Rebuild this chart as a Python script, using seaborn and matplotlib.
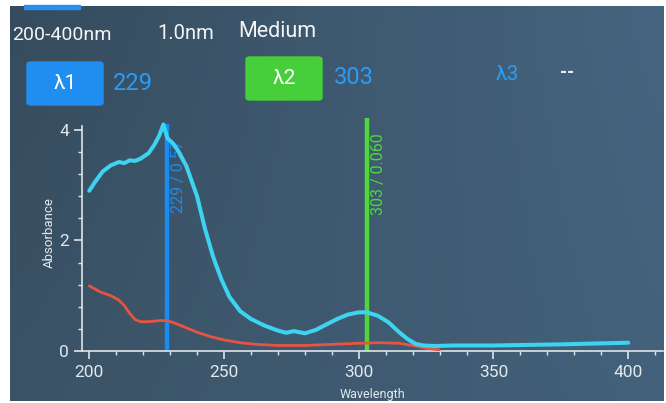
import numpy as np
import pandas as pd
import seaborn as sns
import matplotlib.pyplot as plt
from matplotlib.patches import FancyBboxPatch, Rectangle
from matplotlib.ticker import MultipleLocator

# sample spectrum (cyan)
sample_wl = [200, 202, 205, 208, 211, 213, 215, 217, 219, 222, 224, 226, 227.5, 229,
             231, 233, 236, 240, 243, 246, 249, 252, 256, 260, 265, 270, 273, 276,
             280, 284, 288, 292, 296, 300, 303, 307, 311, 315, 318, 321, 324, 328,
             335, 350, 375, 400]
sample_abs = [2.9, 3.05, 3.25, 3.36, 3.42, 3.4, 3.45, 3.44, 3.48, 3.58, 3.72, 3.9, 4.1, 3.85,
              3.76, 3.62, 3.35, 2.8, 2.2, 1.7, 1.3, 0.98, 0.72, 0.58, 0.46, 0.37, 0.33, 0.36,
              0.32, 0.38, 0.48, 0.58, 0.66, 0.7, 0.7, 0.64, 0.52, 0.34, 0.22, 0.13, 0.1, 0.09,
              0.1, 0.1, 0.12, 0.15]

# reference spectrum (red)
ref_wl = [200, 204, 208, 211, 213, 215, 217, 219, 222, 226, 229, 232, 236, 240, 245,
          250, 256, 262, 270, 280, 290, 300, 308, 315, 320, 325, 330]
ref_abs = [1.18, 1.07, 1.0, 0.92, 0.82, 0.68, 0.57, 0.53, 0.53, 0.55, 0.55, 0.5, 0.42, 0.34, 0.26,
           0.2, 0.15, 0.12, 0.1, 0.1, 0.12, 0.14, 0.15, 0.14, 0.1, 0.05, 0.02]

# marker wavelengths
markers = [229, 303]
marker_tops = [4.1, 4.22]
marker_labels = ["229 / 0.57", "303 / 0.060"]
marker_colors = ["#1a8cf0", "#4fd83a"]

header = ["200-400nm", "1.0nm", "Medium"]
lambda_names = ["λ1", "λ2", "λ3"]
lambda_values = ["229", "303", "--"]

W, H = 666, 403


def fx(px):
    return px / W


def fy(py):
    return 1 - py / H


sns.set_theme(style="ticks")
plt.rcParams["font.family"] = ["Roboto", "DejaVu Sans"]

fig = plt.figure(figsize=(6.66, 4.03), dpi=100, facecolor="white")

# screen background (photo of a display)
bg = fig.add_axes([0, 0, 1, 1], zorder=-1)
bg.set_xlim(0, W)
bg.set_ylim(H, 0)
bg.axis("off")
tl = np.array([0x36, 0x4c, 0x5e]) / 255
tr = np.array([0x46, 0x65, 0x80]) / 255
bl = np.array([0x3b, 0x53, 0x66]) / 255
br = np.array([0x43, 0x61, 0x7b]) / 255
u = np.linspace(0, 1, 60)[None, :, None]
v = np.linspace(0, 1, 40)[:, None, None]
grad = (1 - v) * ((1 - u) * tl + u * tr) + v * ((1 - u) * bl + u * br)
bg.imshow(grad, extent=[10, 664, 401, 6], aspect="auto", interpolation="bilinear")
bg.add_patch(Rectangle((24, 5), 56, 3.5, color="#2a8ff0"))

# header texts
for txt, x, y, fs in zip(header, [12, 157, 238], [40, 39, 37], [14, 14.5, 15.5]):
    fig.text(fx(x), fy(y), txt, color="#f2f4f6", fontsize=fs, ha="left", va="baseline")

# lambda buttons
fig.patches.append(FancyBboxPatch((fx(27), fy(105)), fx(76), 43 / H,
                                  boxstyle="round,pad=0,rounding_size=0.006",
                                  transform=fig.transFigure, color="#1f8ef0"))
fig.patches.append(FancyBboxPatch((fx(246), fy(100)), fx(76), 43 / H,
                                  boxstyle="round,pad=0,rounding_size=0.006",
                                  transform=fig.transFigure, color="#46cf3a"))
fig.text(fx(65), fy(83), lambda_names[0], color="white", fontsize=15, ha="center", va="center")
fig.text(fx(284), fy(78), lambda_names[1], color="white", fontsize=15, ha="center", va="center")
fig.text(fx(507), fy(74), lambda_names[2], color="#2a9cf5", fontsize=15, ha="center", va="center")
fig.text(fx(113), fy(83), lambda_values[0], color="#2a9cf5", fontsize=17, ha="left", va="center")
fig.text(fx(334), fy(78), lambda_values[1], color="#2a9cf5", fontsize=17, ha="left", va="center")
fig.text(fx(560), fy(73), lambda_values[2], color="#e8ecef", fontsize=13, ha="left", va="center",
         fontweight="bold")

# chart
ax = fig.add_axes([fx(82), fy(351), fx(663 - 82), (351 - 113.4) / H])
ax.set_facecolor("none")

sample = pd.DataFrame({"wl": sample_wl, "abs": sample_abs})
ref = pd.DataFrame({"wl": ref_wl, "abs": ref_abs})

for m, top, lab, col in zip(markers, marker_tops, marker_labels, marker_colors):
    ax.plot([m, m], [0, top], color=col, lw=3.2, zorder=2, solid_capstyle="butt")
    ax.text(m + 1.5, top - 0.28, lab, color=col, rotation=90, fontsize=11.5,
            ha="left", va="top", zorder=2)

sns.lineplot(data=ref, x="wl", y="abs", ax=ax, color="#e5553f", lw=2, zorder=3)
sns.lineplot(data=sample, x="wl", y="abs", ax=ax, color="#3fd3f2", lw=2.9, zorder=4)

ax.set_xlim(197.3, 412.9)
ax.set_ylim(0, 4.3)
ax.xaxis.set_major_locator(MultipleLocator(50))
ax.xaxis.set_minor_locator(MultipleLocator(10))
ax.yaxis.set_major_locator(MultipleLocator(2))
ax.yaxis.set_minor_locator(MultipleLocator(0.4))
ax.set_yticks([0, 2, 4])

for side in ["top", "right"]:
    ax.spines[side].set_visible(False)
for side in ["left", "bottom"]:
    ax.spines[side].set_color("#dfe5ea")
    ax.spines[side].set_linewidth(1.2)
ax.spines["left"].set_bounds(0, 4.07)

ax.tick_params(axis="both", which="major", colors="#dfe5ea", labelcolor="#e3e8ec",
               labelsize=12.5, length=6, width=1.2)
ax.tick_params(axis="both", which="minor", colors="#dfe5ea", length=3, width=1)
ax.tick_params(axis="x", pad=4)

ax.set_xlabel("Wavelength", color="#e3e8ec", fontsize=9, labelpad=6)
ax.set_ylabel("Absorbance", color="#e3e8ec", fontsize=9.5, labelpad=2)

fig.savefig("out.png", dpi=100, facecolor="white")
